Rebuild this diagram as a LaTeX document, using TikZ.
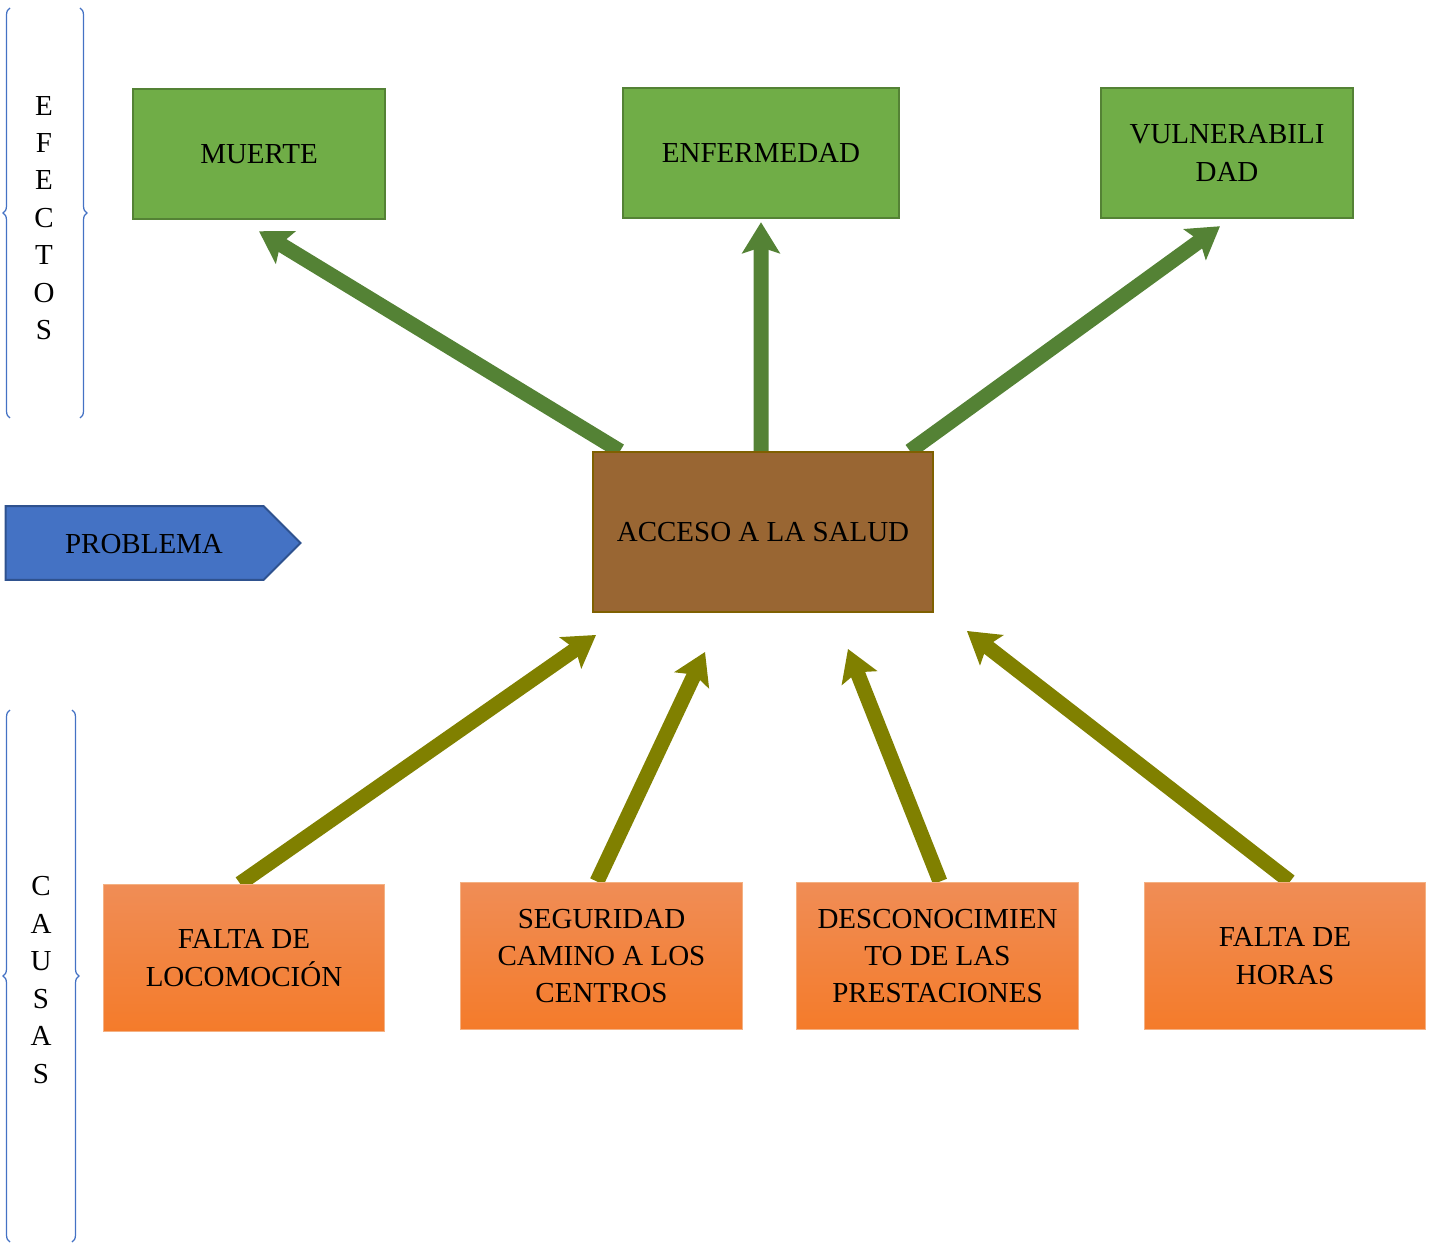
\documentclass[tikz,border=0pt]{standalone}
\usepackage{fontspec}
\setmainfont{Liberation Serif}
\usetikzlibrary{positioning,arrows.meta,shapes.symbols,decorations.pathreplacing,backgrounds}

\definecolor{verdeefecto}{HTML}{70AD47}
\definecolor{verdeborde}{HTML}{548235}
\definecolor{cafe}{HTML}{996633}
\definecolor{cafeborde}{HTML}{7F6000}
\definecolor{azulprob}{HTML}{4472C4}
\definecolor{azulborde}{HTML}{2F528F}
\definecolor{naranjaalto}{HTML}{F08D56}
\definecolor{naranjabajo}{HTML}{F47B2A}
\definecolor{naranjaborde}{HTML}{F4B183}
\definecolor{oliva}{HTML}{808000}
\definecolor{llavecolor}{HTML}{4472C4}

\tikzset{
  efecto/.style={rectangle, fill=verdeefecto, draw=verdeborde, line width=0.05cm,
    minimum width=5.04cm, minimum height=2.6cm, align=center},
  causa/.style={rectangle, top color=naranjaalto, bottom color=naranjabajo,
    draw=naranjaborde, line width=0.02cm, minimum width=5.64cm, minimum height=2.96cm, align=center},
  flechaefecto/.style={draw=verdeborde, line width=0.3cm,
    -{Stealth[length=0.62cm,width=0.75cm,inset=0.12cm]}},
  flechacausa/.style={draw=oliva, line width=0.3cm,
    -{Stealth[length=0.62cm,width=0.75cm,inset=0.12cm]}},
  llave/.style={draw=llavecolor, line width=0.025cm, decorate,
    decoration={brace, amplitude=0.14cm}},
}

\begin{document}
\begin{tikzpicture}[x=0.02cm, y=-0.02cm,
    every node/.style={font=\fontsize{16.5pt}{21.3pt}\selectfont}]
  \useasboundingbox (0,0) rectangle (1437,1243);

  % efectos
  \node[efecto] (muerte) at (259,154) {MUERTE};
  \node[efecto, minimum width=5.52cm] (enfermedad) at (761,153) {ENFERMEDAD};
  \node[efecto] (vulnerab) at (1227,153) {VULNERABILI\\DAD};

  % problema central
  \node[rectangle, fill=cafe, draw=cafeborde, line width=0.04cm,
    minimum width=6.8cm, minimum height=3.2cm] (acceso) at (763,532) {ACCESO A LA SALUD};
  \node[signal, signal to=east, signal pointer angle=90, fill=azulprob, draw=azulborde,
    line width=0.04cm, minimum width=5.9cm, minimum height=1.48cm, inner xsep=0pt] (problema) at (134.5,543) {};
  \node at (144,544) {PROBLEMA};

  % causas
  \node[causa] (locomocion) at (244,958) {FALTA DE\\LOCOMOCIÓN};
  \node[causa] (seguridad) at (601.5,956) {SEGURIDAD\\CAMINO A LOS\\CENTROS};
  \node[causa] (desconoc) at (937.5,956) {DESCONOCIMIEN\\TO DE LAS\\PRESTACIONES};
  \node[causa] (horas) at (1285,956) {FALTA DE\\HORAS};

  \begin{scope}[on background layer]
    \draw[flechaefecto] ([xshift=-2.86cm]acceso.north) -- ([yshift=-0.22cm]muerte.south);
    \draw[flechaefecto] ([xshift=-0.04cm]acceso.north) -- ([yshift=-0.06cm]enfermedad.south);
    \draw[flechaefecto] ([xshift=2.94cm]acceso.north) -- ([xshift=-0.14cm,yshift=-0.14cm]vulnerab.south);

    \draw[flechacausa] ([xshift=-0.08cm]locomocion.north) -- ([xshift=0.08cm,yshift=-0.44cm]acceso.south west);
    \draw[flechacausa] ([xshift=-0.09cm]seguridad.north) -- ([xshift=-1.16cm,yshift=-0.78cm]acceso.south);
    \draw[flechacausa] ([xshift=0.05cm]desconoc.north) -- ([xshift=1.7cm,yshift=-0.72cm]acceso.south);
    \draw[flechacausa] ([xshift=0.1cm]horas.north) -- ([xshift=0.66cm,yshift=-0.36cm]acceso.south east);
  \end{scope}

  % llaves laterales
  \node[align=center] (efectos) at (44,218) {E\\F\\E\\C\\T\\O\\S};
  \coordinate (efA) at (10,418);
  \coordinate (efB) at (10,8);
  \coordinate (efC) at (80,8);
  \coordinate (efD) at (80,418);
  \draw[llave] (efA) -- (efB);
  \draw[llave] (efC) -- (efD);

  \node[align=center] (causas) at (41,980) {C\\A\\U\\S\\A\\S};
  \coordinate (caA) at (10,1242);
  \coordinate (caB) at (10,710);
  \coordinate (caC) at (72,710);
  \coordinate (caD) at (72,1242);
  \draw[llave] (caA) -- (caB);
  \draw[llave] (caC) -- (caD);
\end{tikzpicture}
\end{document}
